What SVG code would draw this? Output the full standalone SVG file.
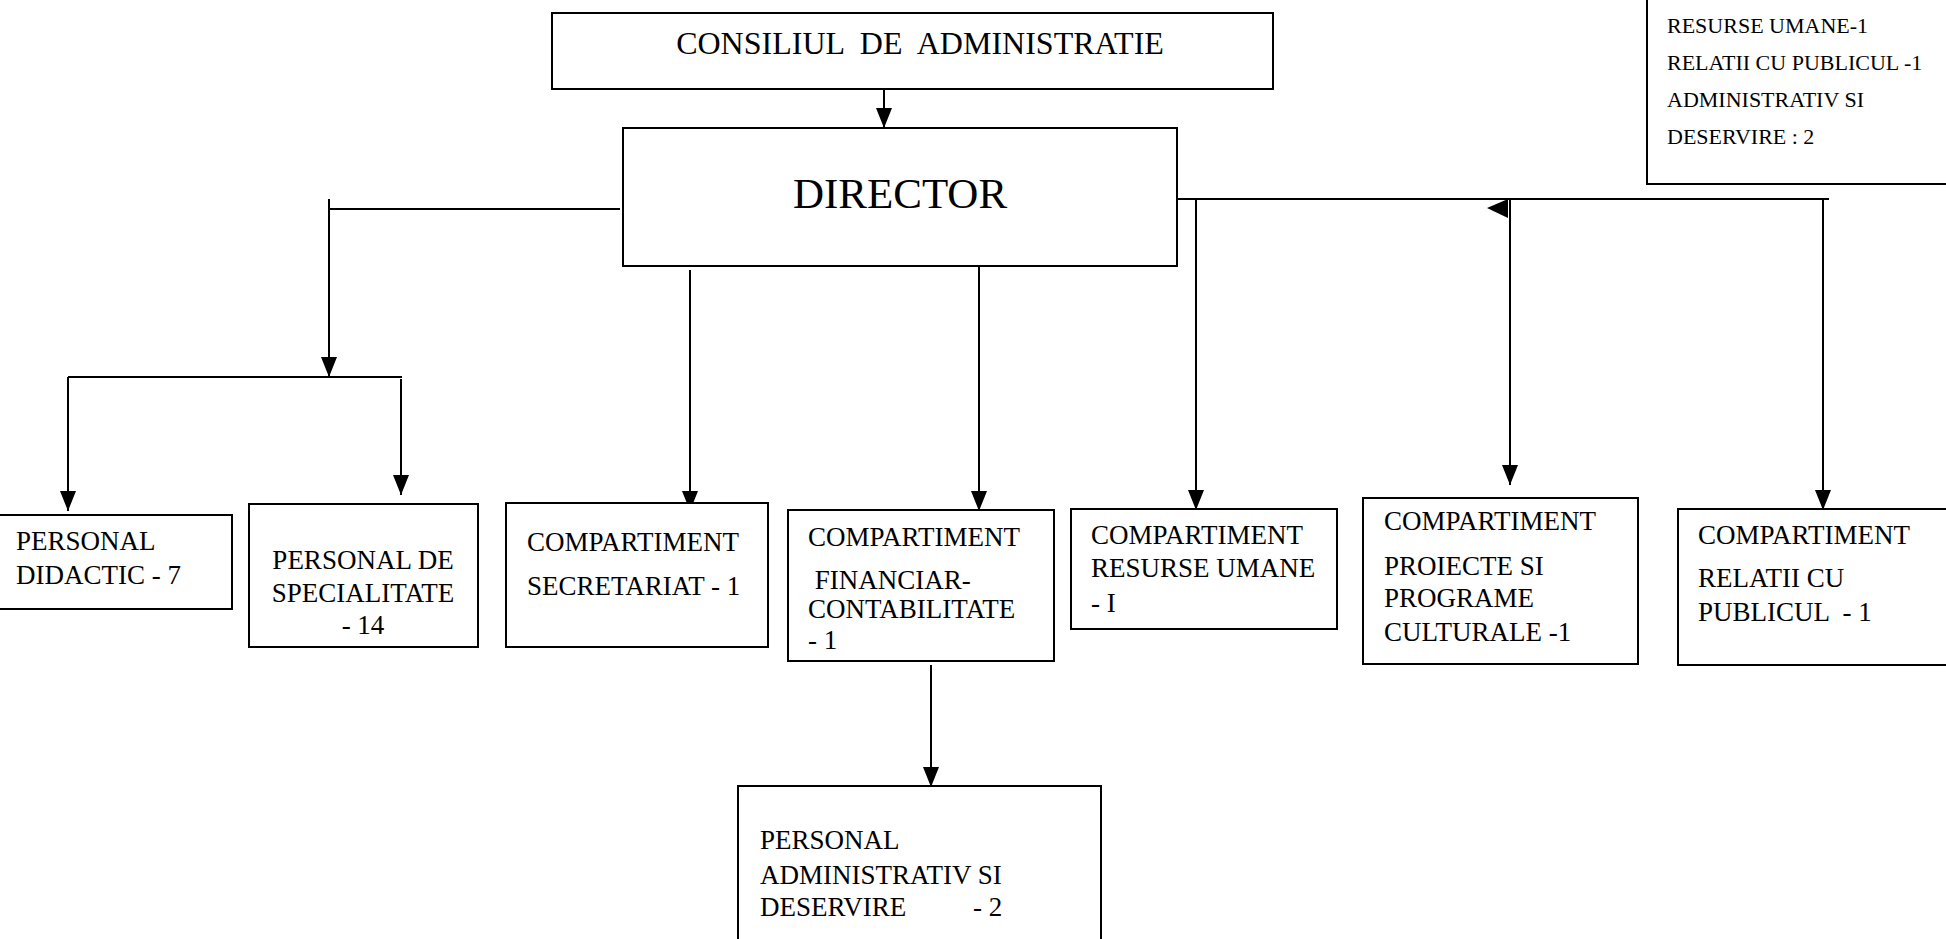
<svg xmlns="http://www.w3.org/2000/svg" width="1946" height="939" viewBox="0 0 1946 939">
<style>
.box{fill:#fff;stroke:#000;stroke-width:2}
.t{font-family:"Liberation Serif","Times New Roman",serif;font-size:27px;fill:#000}
.s{font-family:"Liberation Serif","Times New Roman",serif;font-size:22px;fill:#000}
.h1{font-size:32px}
.h2{font-size:43px}
.c{fill:none;stroke:#000;stroke-width:2}
.a{fill:none;stroke:#000;stroke-width:2;marker-end:url(#ah)}
</style>
<defs>
<marker id="ah" viewBox="0 0 20 16" refX="20" refY="8" markerWidth="20" markerHeight="16" markerUnits="userSpaceOnUse" orient="auto">
<path d="M0,0 L20,8 L0,16 z" fill="#000"/>
</marker>
</defs>
<rect width="1946" height="939" fill="#fff"/>
<g id="connectors">
<line class="a" x1="884" y1="89" x2="884" y2="128"/>
<polyline class="c" points="620,209 329,209"/>
<line class="a" x1="329" y1="199" x2="329" y2="377"/>
<polyline class="c" points="68,377 402,377"/>
<line class="a" x1="68" y1="377" x2="68" y2="511"/>
<line class="a" x1="401" y1="379" x2="401" y2="495"/>
<line class="a" x1="690" y1="270" x2="690" y2="511"/>
<line class="a" x1="979" y1="266" x2="979" y2="511"/>
<line class="c" x1="1177" y1="199" x2="1829" y2="199"/>
<line class="a" x1="1196" y1="199" x2="1196" y2="510"/>
<line class="a" x1="1510" y1="199" x2="1510" y2="485"/>
<line class="a" x1="1823" y1="199" x2="1823" y2="510"/>
<polygon points="1487,208 1508,199 1508,218" fill="#000"/>
<line class="a" x1="931" y1="665" x2="931" y2="787"/>
</g>
<g id="consiliul">
<rect class="box" x="552" y="13" width="721" height="76"/>
<text class="t h1" x="920" y="54" text-anchor="middle" xml:space="preserve">CONSILIUL  DE  ADMINISTRATIE</text>
</g>
<g id="director">
<rect class="box" x="623" y="128" width="554" height="138"/>
<text class="t h2" x="900" y="208" text-anchor="middle">DIRECTOR</text>
</g>
<g id="legend">
<rect class="box" x="1647" y="-5" width="310" height="189"/>
<text class="s" x="1667" y="33">RESURSE UMANE-1</text>
<text class="s" x="1667" y="70">RELATII CU PUBLICUL -1</text>
<text class="s" x="1667" y="107">ADMINISTRATIV SI</text>
<text class="s" x="1667" y="144">DESERVIRE : 2</text>
</g>
<g id="personal-didactic">
<rect class="box" x="-5" y="515" width="237" height="94"/>
<text class="t" x="16" y="550">PERSONAL</text>
<text class="t" x="16" y="584">DIDACTIC - 7</text>
</g>
<g id="personal-specialitate">
<rect class="box" x="249" y="504" width="229" height="143"/>
<text class="t" x="363" y="569" text-anchor="middle">PERSONAL DE</text>
<text class="t" x="363" y="602" text-anchor="middle">SPECIALITATE</text>
<text class="t" x="363" y="634" text-anchor="middle">- 14</text>
</g>
<g id="secretariat">
<rect class="box" x="506" y="503" width="262" height="144"/>
<text class="t" x="527" y="551">COMPARTIMENT</text>
<text class="t" x="527" y="595">SECRETARIAT - 1</text>
</g>
<g id="financiar">
<rect class="box" x="788" y="510" width="266" height="151"/>
<text class="t" x="808" y="546">COMPARTIMENT</text>
<text class="t" x="808" y="589" xml:space="preserve"> FINANCIAR-</text>
<text class="t" x="808" y="618">CONTABILITATE</text>
<text class="t" x="808" y="649">- 1</text>
</g>
<g id="resurse-umane">
<rect class="box" x="1071" y="509" width="266" height="120"/>
<text class="t" x="1091" y="544">COMPARTIMENT</text>
<text class="t" x="1091" y="577">RESURSE UMANE</text>
<text class="t" x="1091" y="612">- I</text>
</g>
<g id="proiecte">
<rect class="box" x="1363" y="498" width="275" height="166"/>
<text class="t" x="1384" y="530">COMPARTIMENT</text>
<text class="t" x="1384" y="575">PROIECTE SI</text>
<text class="t" x="1384" y="607">PROGRAME</text>
<text class="t" x="1384" y="641">CULTURALE -1</text>
</g>
<g id="relatii">
<rect class="box" x="1678" y="509" width="275" height="156"/>
<text class="t" x="1698" y="544">COMPARTIMENT</text>
<text class="t" x="1698" y="587">RELATII CU</text>
<text class="t" x="1698" y="621" xml:space="preserve">PUBLICUL  - 1</text>
</g>
<g id="personal-administrativ">
<rect class="box" x="738" y="786" width="363" height="165"/>
<text class="t" x="760" y="849">PERSONAL</text>
<text class="t" x="760" y="884">ADMINISTRATIV SI</text>
<text class="t" x="760" y="916">DESERVIRE</text>
<text class="t" x="973" y="916">- 2</text>
</g>
</svg>
